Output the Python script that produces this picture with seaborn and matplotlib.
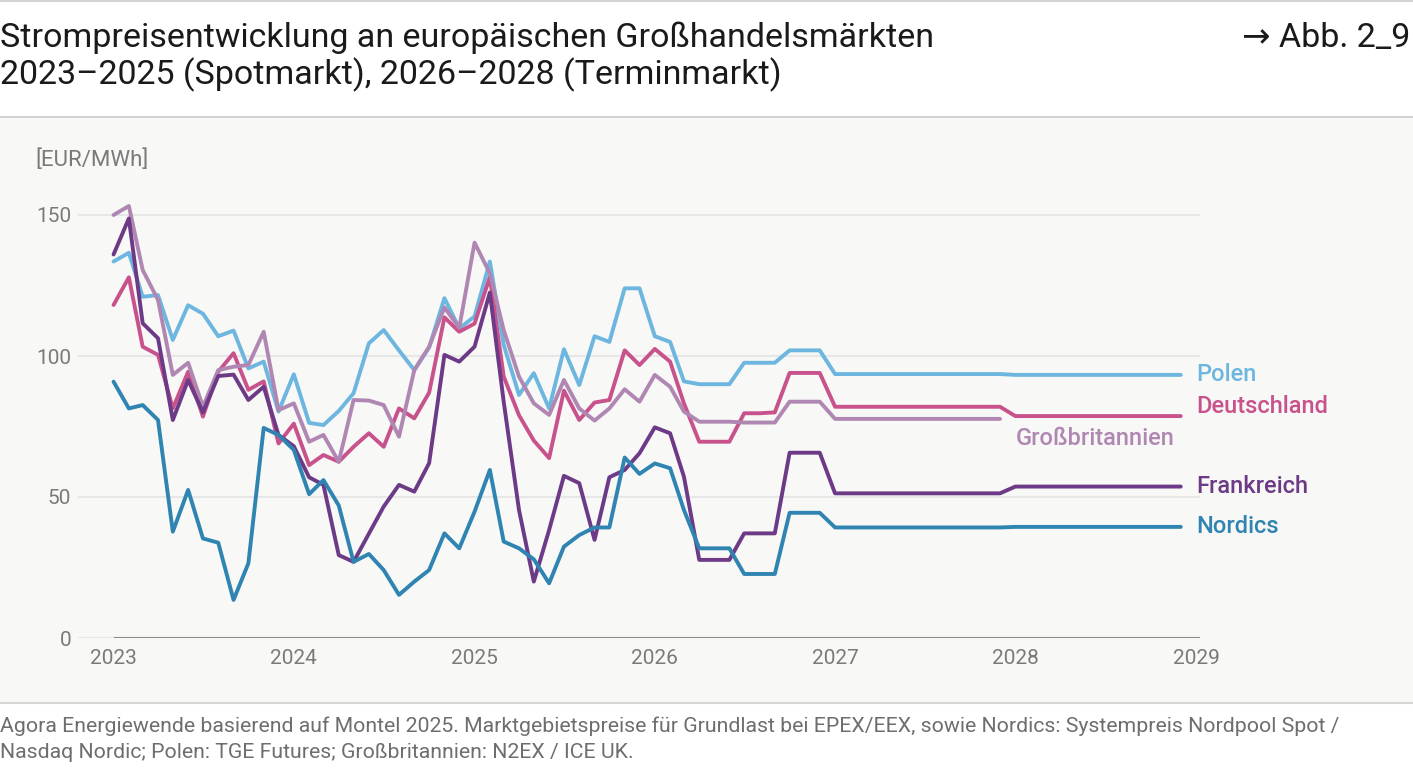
import matplotlib
matplotlib.use("Agg")
import matplotlib.pyplot as plt
from matplotlib.patches import Rectangle
from matplotlib.lines import Line2D
import seaborn as sns
import numpy as np
import pandas as pd

# monthly values, Jan 2023 .. Dec 2028 (spot until 2025, forwards after)
months = pd.date_range("2023-01-01", periods=72, freq="MS")

polen = [133.5, 136.6, 121.0, 121.6, 105.7, 118.0, 115.0, 107.0, 109.0, 95.6, 98.0, 80.3,
         93.5, 76.3, 75.5, 80.5, 86.8, 104.5, 109.2, 102.0, 95.0, 103.0, 120.5, 109.8,
         114.0, 133.5, 104.0, 86.2, 93.9, 81.4, 102.4, 89.7, 107.0, 105.0, 124.0, 124.0,
         107.0, 105.0, 91.0, 90.0, 90.0, 90.0, 97.6, 97.6, 97.6, 102.0, 102.0, 102.0] \
        + [93.6] * 12 + [93.3] * 12
deutschland = [118.1, 127.9, 103.3, 100.4, 81.4, 94.4, 78.5, 94.4, 101.0, 88.0, 91.0, 69.0,
               76.0, 61.3, 64.9, 62.5, 67.8, 72.6, 67.8, 81.4, 77.9, 87.0, 113.7, 108.6,
               111.5, 128.0, 92.7, 79.0, 70.0, 63.8, 87.7, 77.3, 83.5, 84.4, 102.0, 96.8,
               102.5, 98.0, 83.2, 69.6, 69.6, 69.6, 79.7, 79.7, 80.0, 94.0, 94.0, 94.0] \
              + [82.0] * 12 + [78.7] * 12
grossbritannien = [150.0, 153.2, 130.5, 119.9, 93.3, 97.6, 82.0, 95.0, 96.2, 96.8, 108.6, 80.8,
                   83.2, 69.6, 72.0, 62.5, 84.4, 84.2, 82.6, 71.4, 95.0, 103.3, 117.2, 110.0,
                   140.2, 129.3, 109.2, 92.7, 83.2, 79.1, 91.5, 81.4, 77.1, 81.4, 88.2, 83.8,
                   93.3, 89.1, 80.3, 76.7, 76.7, 76.7, 76.4, 76.4, 76.4, 83.8, 83.8, 83.8] \
                  + [77.7] * 12 + [np.nan] * 12
frankreich = [136.0, 148.8, 111.6, 106.3, 77.3, 91.5, 80.0, 92.9, 93.4, 84.4, 89.1, 72.0,
              68.0, 57.0, 54.3, 29.4, 27.0, 37.0, 46.6, 54.3, 51.9, 62.0, 100.4, 98.0,
              103.3, 122.5, 83.8, 45.4, 20.0, 38.3, 57.5, 54.9, 34.8, 57.0, 59.6, 65.5,
              74.7, 72.6, 57.2, 27.7, 27.7, 27.7, 37.1, 37.1, 37.1, 65.7, 65.7, 65.7] \
             + [51.3] * 12 + [53.7] * 12
nordics = [90.9, 81.4, 82.6, 77.3, 37.7, 52.5, 35.3, 33.8, 13.5, 26.5, 74.5, 72.0,
           66.7, 51.0, 56.0, 47.0, 27.0, 29.8, 24.1, 15.3, 20.0, 24.1, 37.1, 31.8,
           44.8, 59.6, 34.2, 31.8, 27.9, 19.4, 32.4, 36.5, 39.2, 39.2, 64.0, 58.2,
           61.9, 60.2, 45.4, 31.8, 31.8, 31.8, 22.7, 22.7, 22.7, 44.4, 44.4, 44.4] \
          + [39.2] * 12 + [39.4] * 12

names = ["Polen", "Deutschland", "Großbritannien", "Frankreich", "Nordics"]
series = [polen, deutschland, grossbritannien, frankreich, nordics]
colors = ["#6cb6df", "#c8528b", "#b087b2", "#6c3a86", "#2f84b1"]
label_y = [93.6, 82.2, 70.6, 53.7, 39.6]

df = pd.concat([pd.DataFrame({"month": months, "price": v, "land": n})
                for n, v in zip(names, series)], ignore_index=True)

W, H = 1413, 774
PANEL = "#f8f8f6"
GREY = "#7a7a7a"

sns.set_style("white")
plt.rcParams["font.family"] = ["Roboto", "DejaVu Sans"]
plt.rcParams["lines.solid_joinstyle"] = "round"
plt.rcParams["lines.solid_capstyle"] = "round"

fig = plt.figure(figsize=(W / 100, H / 100), dpi=100)
fig.patch.set_facecolor("white")

def fy(py):
    return 1 - py / H

fig.add_artist(Rectangle((0, fy(703)), 1, fy(117) - fy(703), transform=fig.transFigure,
                         facecolor=PANEL, edgecolor="none", zorder=0))
for py in (1, 117, 703):
    fig.add_artist(Line2D([0, 1], [fy(py), fy(py)], transform=fig.transFigure,
                          color="#d4d4d4", lw=1.5, zorder=1))

ax = fig.add_axes([78 / W, fy(638), (1200 - 78) / W, fy(186.8) - fy(638)])
ax.set_facecolor("none")

sns.lineplot(data=df, x="month", y="price", hue="land", hue_order=names,
             palette=colors, linewidth=2.8, legend=False, sort=False,
             estimator=None, ax=ax)

x_left = pd.Timestamp("2022-10-21")
x_right = pd.Timestamp("2029-01-09")
ax.set_xlim(x_left, x_right)
ax.set_ylim(0, 160)

years = [pd.Timestamp(f"{y}-01-01") for y in range(2023, 2030)]
ax.set_xticks(years)
ax.set_xticklabels([str(y) for y in range(2023, 2030)])
ax.set_yticks([0, 50, 100, 150])
ax.set_yticklabels(["0", "50", "100", "150"])
ax.tick_params(axis="both", length=0, labelsize=15, labelcolor=GREY)
ax.tick_params(axis="x", pad=8)
ax.tick_params(axis="y", pad=5)
ax.yaxis.grid(True, color="#e7e7e7", lw=1.5, zorder=0)
ax.xaxis.grid(False)
for s in ax.spines.values():
    s.set_visible(False)
ax.hlines(0, years[0], x_right, color="#8a8a8a", lw=1.5, zorder=1)
ax.set_xlabel("")
ax.set_ylabel("")

# end labels
for n, c, ly in zip(names, colors, label_y):
    lx = pd.Timestamp("2028-01-01") if n == "Großbritannien" else pd.Timestamp("2029-01-01")
    ax.text(lx, ly, n, color=c, fontsize=17, fontweight="medium",
            ha="left", va="center")

fig.text(35 / W, fy(160), "[EUR/MWh]", fontsize=16, color=GREY, ha="left", va="center")

fig.text(0, fy(38), "Strompreisentwicklung an europäischen Großhandelsmärkten",
         fontsize=24.5, color="#1a1a1a", ha="left", va="center")
fig.text(0, fy(75), "2023–2025 (Spotmarkt), 2026–2028 (Terminmarkt)",
         fontsize=24.5, color="#1a1a1a", ha="left", va="center")
fig.text(1410 / W, fy(38), "→ Abb. 2_9", fontsize=24.5, color="#1a1a1a",
         ha="right", va="center")

fig.text(0, fy(726), "Agora Energiewende basierend auf Montel 2025. Marktgebietspreise für "
         "Grundlast bei EPEX/EEX, sowie Nordics: Systempreis Nordpool Spot /",
         fontsize=15.3, color="#6e6e6e", ha="left", va="center")
fig.text(0, fy(752), "Nasdaq Nordic; Polen: TGE Futures; Großbritannien: N2EX / ICE UK.",
         fontsize=15.3, color="#6e6e6e", ha="left", va="center")

plt.savefig("out.png", dpi=100)
print("end")
